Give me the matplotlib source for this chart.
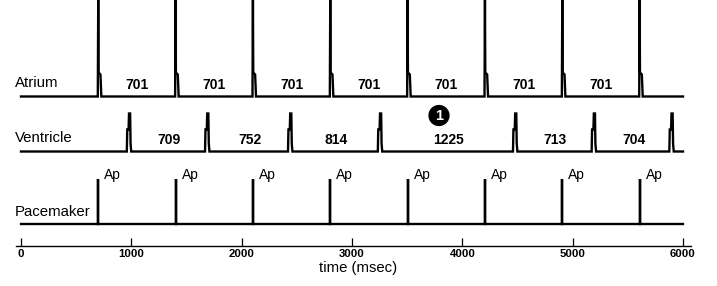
import numpy as np
import matplotlib
matplotlib.use("Agg")
import matplotlib.pyplot as plt

plt.rcParams['font.family'] = ['Liberation Sans', 'DejaVu Sans']

# ---- data ----
row_labels = ["Atrium", "Ventricle", "Pacemaker"]
atrial_first = 700
atrial_intervals = [701, 701, 701, 701, 701, 701, 701]
ventricle_first = 987
ventricle_intervals = [709, 752, 814, 1225, 713, 704]
pacer_label = "Ap"
xticks = [0, 1000, 2000, 3000, 4000, 5000, 6000]
marker_text = "1"
marker_interval_index = 3  # the 1225 ms interval

atrial_times = np.concatenate([[atrial_first], atrial_first + np.cumsum(atrial_intervals)])
ventricle_times = np.concatenate([[ventricle_first], ventricle_first + np.cumsum(ventricle_intervals)])
pacer_times = atrial_times

# ---- layout (pixel-like y units, inverted) ----
W, H = 717, 286
fig = plt.figure(figsize=(W / 100, H / 100), dpi=100)
ax = fig.add_axes([0, 0, 1, 1])
slope = 662 / 6000.0
ax.set_xlim(-21 / slope, (W - 21) / slope)
ax.set_ylim(H, 0)

base_a, base_v, base_p = 96.5, 151.5, 224
t_start, t_end = 0, 6000
lw = 1.7


def trace(times, shape, base):
    xs, ys = [t_start], [base]
    for t in times:
        for dx, dy in shape:
            xs.append(t + dx)
            ys.append(base - dy)
    xs.append(t_end)
    ys.append(base)
    return xs, ys


atrium_shape = [(-4, 0), (0, 97), (3, 24), (20, 22), (28, 0)]
ventricle_shape = [(-28, 0), (-24, 22), (-12, 22), (-8, 38), (2, 38), (6, 8), (12, 0)]
pacer_shape = [(0, 0), (0, 45), (0, 0)]

for times, shape, base in [(atrial_times, atrium_shape, base_a),
                           (ventricle_times, ventricle_shape, base_v),
                           (pacer_times, pacer_shape, base_p)]:
    xs, ys = trace(times, shape, base)
    ax.plot(xs, ys, color='black', lw=lw, solid_joinstyle='miter')

# row labels
label_x = (15 - 21) / slope
for lab, y in zip(row_labels, [83, 138, 212]):
    ax.text(label_x, y, lab, fontsize=10.8, ha='left', va='center', color='black')

# interval labels
for i, iv in enumerate(atrial_intervals):
    mid = (atrial_times[i] + atrial_times[i + 1]) / 2
    ax.text(mid, 85, str(iv), fontsize=10, fontweight='bold', ha='center', va='center')
for i, iv in enumerate(ventricle_intervals):
    mid = (ventricle_times[i] + ventricle_times[i + 1]) / 2
    ax.text(mid, 140, str(iv), fontsize=10, fontweight='bold', ha='center', va='center')

# pacer labels
for t in pacer_times:
    ax.text(t + 6 / slope, 175, pacer_label, fontsize=10, ha='left', va='center')

# circled marker
mi = marker_interval_index
mx = (ventricle_times[mi] + ventricle_times[mi + 1]) / 2 - 9.5 / slope
ax.text(mx, 115.5, marker_text, fontsize=10.5, fontweight='bold', color='white',
        ha='center', va='center',
        bbox=dict(boxstyle='circle,pad=0.2', fc='black', ec='black'))

# time axis
for s in ['top', 'left', 'right']:
    ax.spines[s].set_visible(False)
ax.spines['bottom'].set_position(('data', 246))
ax.spines['bottom'].set_bounds(-45, 6070)
ax.spines['bottom'].set_linewidth(1.0)
ax.set_yticks([])
ax.set_xticks(xticks)
ax.set_xticklabels([str(x) for x in xticks], fontsize=8.2, fontweight='bold')
ax.tick_params(axis='x', direction='in', length=5.5, width=0.9, pad=2.5)
ax.set_xlabel("time (msec)", fontsize=10.7, labelpad=1)
ax.patch.set_visible(False)

fig.savefig("out.png", dpi=100)
